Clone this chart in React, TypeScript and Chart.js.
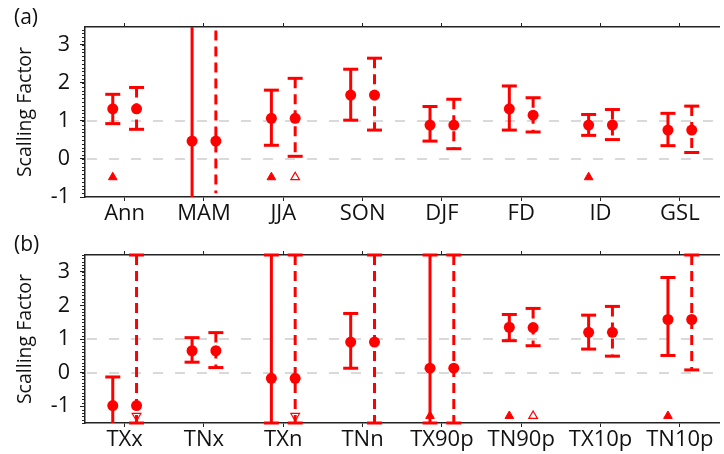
import React, { useEffect, useRef } from "react";
import { Chart, registerables } from "chart.js";
Chart.register(...registerables);

// ---------- Panel (a) ----------
const topCategories = ["Ann", "MAM", "JJA", "SON", "DJF", "FD", "ID", "GSL"];
const topSolidMid = [1.32, 0.47, 1.07, 1.68, 0.89, 1.32, 0.89, 0.76];
const topSolidHigh = [1.7, 5, 1.81, 2.36, 1.38, 1.92, 1.17, 1.2];
const topSolidLow = [0.93, -3, 0.36, 1.02, 0.47, 0.76, 0.62, 0.35];
const topSolidCapHigh = [1, 0, 1, 1, 1, 1, 1, 1];
const topSolidCapLow = [1, 0, 1, 1, 1, 1, 1, 1];
const topDashMid = [1.32, 0.47, 1.07, 1.68, 0.89, 1.15, 0.89, 0.76];
const topDashHigh = [1.88, 3.38, 2.12, 2.65, 1.57, 1.61, 1.3, 1.39];
const topDashLow = [0.78, -0.9, 0.07, 0.76, 0.27, 0.71, 0.51, 0.17];
const topDashCapHigh = [1, 0, 1, 1, 1, 1, 1, 1];
const topDashCapLow = [1, 0, 1, 1, 1, 1, 1, 1];
const topSolidTriangle = [-0.48, null, -0.48, null, null, null, -0.48, null];
const topDashTriangleUp = [null, null, -0.48, null, null, null, null, null];
const topDashTriangleDown = [null, null, null, null, null, null, null, null];

// ---------- Panel (b) ----------
const botCategories = ["TXx", "TNx", "TXn", "TNn", "TX90p", "TN90p", "TX10p", "TN10p"];
const botSolidMid = [-0.98, 0.65, -0.17, 0.91, 0.13, 1.35, 1.2, 1.58];
const botSolidHigh = [-0.13, 1.04, 3.5, 1.76, 3.5, 1.73, 1.71, 2.83];
const botSolidLow = [-3, 0.31, -1.5, 0.13, -1.5, 0.95, 0.7, 0.51];
const botSolidCapHigh = [1, 1, 1, 1, 1, 1, 1, 1];
const botSolidCapLow = [0, 1, 1, 1, 1, 1, 1, 1];
const botDashMid = [-0.98, 0.65, -0.17, 0.91, 0.13, 1.34, 1.2, 1.58];
const botDashHigh = [3.5, 1.19, 3.5, 3.5, 3.5, 1.91, 1.97, 3.5];
const botDashLow = [-1.5, 0.15, -1.5, -1.5, -1.5, 0.8, 0.49, 0.08];
const botDashCapHigh = [1, 1, 1, 1, 1, 1, 1, 1];
const botDashCapLow = [1, 1, 1, 1, 1, 1, 1, 1];
const botSolidTriangle = [null, null, null, null, -1.29, -1.29, null, -1.29];
const botDashTriangleUp = [null, null, null, null, null, -1.29, null, null];
const botDashTriangleDown = [-1.29, null, -1.29, null, null, null, null, null];

const yTickValues = [-1, 0, 1, 2, 3];
const refLineValues = [0, 1];

const RED = "#ff0000";
const FONT = '"Open Sans", "Noto Sans", sans-serif';

type Arr = (number | null)[];

interface PanelProps {
  label: string;
  categories: string[];
  solidMid: number[]; solidHigh: number[]; solidLow: number[];
  solidCapHigh: number[]; solidCapLow: number[];
  dashMid: number[]; dashHigh: number[]; dashLow: number[];
  dashCapHigh: number[]; dashCapLow: number[];
  solidTri: Arr; dashTriUp: Arr; dashTriDown: Arr;
  yMin: number; yMax: number;
  topH: number; bottomH: number;
  height: number;
}

const decorPlugin = {
  id: "decor",
  beforeDatasetsDraw(chart: any) {
    const { ctx, chartArea, scales } = chart;
    const y = scales.y;
    ctx.save();
    ctx.strokeStyle = "#cdcdcd";
    ctx.lineWidth = 1.5;
    ctx.setLineDash([10, 12]);
    refLineValues.forEach((v) => {
      const py = Math.round(y.getPixelForValue(v));
      ctx.beginPath();
      ctx.moveTo(chartArea.left + 2, py);
      ctx.lineTo(chartArea.right, py);
      ctx.stroke();
    });
    ctx.restore();
  },
  afterDraw(chart: any, _args: any, opts: any) {
    const { ctx, chartArea, scales } = chart;
    const y = scales.y;
    ctx.save();
    ctx.strokeStyle = "#222";
    ctx.lineWidth = 1;
    const step = 0.1;
    for (let k = Math.ceil(y.min / step - 1e-6); k * step <= y.max + 1e-6; k++) {
      const py = Math.round(y.getPixelForValue(k * step)) + 0.5;
      ctx.beginPath();
      ctx.moveTo(chartArea.left - 3, py);
      ctx.lineTo(chartArea.left, py);
      ctx.stroke();
    }
    ctx.fillStyle = "#111";
    ctx.font = `21px ${FONT}`;
    ctx.textBaseline = "middle";
    ctx.textAlign = "left";
    ctx.fillText(opts.label, 14, 18);
    ctx.restore();
  },
};

function Panel(p: PanelProps) {
  const ref = useRef<HTMLCanvasElement>(null);
  useEffect(() => {
    const dxS = -0.15;
    const dxD = 0.15;
    const bars = (hi: number[], lo: number[], dx: number) => {
      const d: any[] = [];
      hi.forEach((h, i) => {
        d.push({ x: i + dx, y: h });
        d.push({ x: i + dx, y: lo[i] });
        d.push({ x: i + dx, y: null });
      });
      return d;
    };
    const caps: any[] = [];
    p.categories.forEach((_c, i) => {
      if (p.solidCapHigh[i]) caps.push({ x: i + dxS, y: p.solidHigh[i] });
      if (p.solidCapLow[i]) caps.push({ x: i + dxS, y: p.solidLow[i] });
      if (p.dashCapHigh[i]) caps.push({ x: i + dxD, y: p.dashHigh[i] });
      if (p.dashCapLow[i]) caps.push({ x: i + dxD, y: p.dashLow[i] });
    });
    const mids = [
      ...p.solidMid.map((v, i) => ({ x: i + dxS, y: v })),
      ...p.dashMid.map((v, i) => ({ x: i + dxD, y: v })),
    ];
    const tri = (arr: Arr, dx: number) =>
      arr.map((v, i) => (v === null ? null : { x: i + dx, y: v })).filter((o) => o !== null);

    const xScale = (pos: string, h: number, labels: boolean) => ({
      type: "linear",
      axis: "x",
      position: pos,
      min: -0.5,
      max: 7.5,
      afterFit: (s: any) => { s.height = h; },
      afterBuildTicks: (s: any) => { s.ticks = p.categories.map((_c, i) => ({ value: i })); },
      ticks: {
        stepSize: 1,
        includeBounds: false,
        autoSkip: false,
        maxRotation: 0,
        padding: 0,
        color: labels ? "#111" : "rgba(0,0,0,0)",
        font: { size: 22, family: FONT },
        callback: (v: any) => p.categories[Math.round(v)] ?? "",
      },
      grid: { drawOnChartArea: false, tickLength: 4, tickColor: "#222", tickWidth: 1 },
      border: { color: "#222", width: 1.5 },
    });

    const chart = new Chart(ref.current as HTMLCanvasElement, {
      type: "line",
      data: {
        datasets: [
          {
            data: mids, showLine: false, pointStyle: "circle", pointRadius: 5.5,
            pointBackgroundColor: RED, pointBorderColor: RED, pointBorderWidth: 0, order: 0, clip: false,
          },
          {
            data: tri(p.solidTri, dxS), showLine: false, pointStyle: "triangle", pointRadius: 5,
            pointBackgroundColor: RED, pointBorderColor: RED, pointBorderWidth: 1, order: 1, clip: false,
          },
          {
            data: tri(p.dashTriUp, dxD), showLine: false, pointStyle: "triangle", pointRadius: 5,
            pointBackgroundColor: "#ffffff", pointBorderColor: RED, pointBorderWidth: 1.2, order: 1, clip: false,
          },
          {
            data: tri(p.dashTriDown, dxD), showLine: false, pointStyle: "triangle", pointRotation: 180, pointRadius: 5,
            pointBackgroundColor: "rgba(255,255,255,0)", pointBorderColor: RED, pointBorderWidth: 1.2, order: 1, clip: false,
          },
          {
            data: caps, showLine: false, pointStyle: "line", pointRadius: 7.5,
            pointBorderColor: RED, pointBorderWidth: 3, order: 2, clip: false,
          },
          {
            data: bars(p.solidHigh, p.solidLow, dxS), borderColor: RED, borderWidth: 3,
            pointRadius: 0, spanGaps: false, order: 3,
          },
          {
            data: bars(p.dashHigh, p.dashLow, dxD), borderColor: RED, borderWidth: 3, borderDash: [10, 6],
            pointRadius: 0, spanGaps: false, order: 3,
          },
        ],
      } as any,
      options: {
        animation: false,
        responsive: false,
        events: [],
        layout: { padding: { left: 0, right: 5, top: 0, bottom: 0 } },
        plugins: { legend: { display: false }, tooltip: { enabled: false }, decor: { label: p.label } } as any,
        scales: {
          x: xScale("bottom", p.bottomH, true),
          x2: xScale("top", p.topH, false),
          y: {
            type: "linear",
            position: "left",
            min: p.yMin,
            max: p.yMax,
            afterFit: (s: any) => { s.width = 85; },
            afterBuildTicks: (s: any) => { s.ticks = yTickValues.map((v) => ({ value: v })); },
            ticks: { includeBounds: false, padding: 10, color: "#111", font: { size: 21.5, family: FONT } },
            grid: {
              drawOnChartArea: false,
              tickLength: 5,
              tickColor: "#222",
              tickWidth: 1,
            },
            border: { color: "#222", width: 1.5 },
            title: {
              display: true,
              text: "Scalling Factor",
              color: "#111",
              font: { size: 19.5, family: FONT },
              padding: { top: 14, bottom: 0 },
            },
          },
        } as any,
      },
      plugins: [decorPlugin],
    });
    return () => chart.destroy();
  }, []);
  return <canvas ref={ref} width={730} height={p.height} style={{ display: "block", width: 730, height: p.height }} />;
}

export default function App() {
  return (
    <div style={{ position: "absolute", left: 0, top: 0, width: 724, height: 454, overflow: "hidden", background: "#fff" }}>
      <Panel
        label="(a)" categories={topCategories}
        solidMid={topSolidMid} solidHigh={topSolidHigh} solidLow={topSolidLow}
        solidCapHigh={topSolidCapHigh} solidCapLow={topSolidCapLow}
        dashMid={topDashMid} dashHigh={topDashHigh} dashLow={topDashLow}
        dashCapHigh={topDashCapHigh} dashCapLow={topDashCapLow}
        solidTri={topSolidTriangle} dashTriUp={topDashTriangleUp} dashTriDown={topDashTriangleDown}
        yMin={-1} yMax={3.47} topH={27} bottomH={30} height={227}
      />
      <Panel
        label="(b)" categories={botCategories}
        solidMid={botSolidMid} solidHigh={botSolidHigh} solidLow={botSolidLow}
        solidCapHigh={botSolidCapHigh} solidCapLow={botSolidCapLow}
        dashMid={botDashMid} dashHigh={botDashHigh} dashLow={botDashLow}
        dashCapHigh={botDashCapHigh} dashCapLow={botDashCapLow}
        solidTri={botSolidTriangle} dashTriUp={botDashTriangleUp} dashTriDown={botDashTriangleDown}
        yMin={-1.5} yMax={3.5} topH={28} bottomH={31} height={227}
      />
    </div>
  );
}
